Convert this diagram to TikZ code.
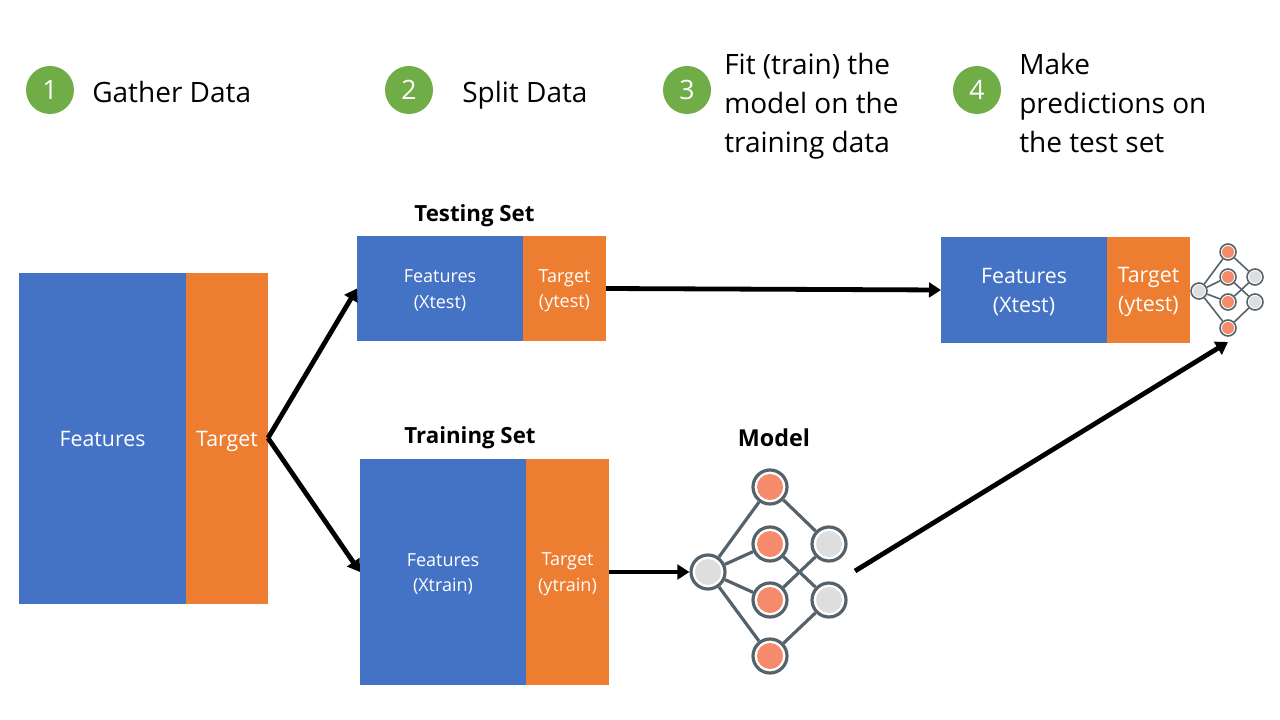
\documentclass[tikz,border=0pt]{standalone}
\usepackage{fontspec}
\setmainfont{Open Sans}
\usetikzlibrary{arrows.meta}
\definecolor{pblue}{HTML}{4472C4}
\definecolor{porange}{HTML}{ED7D31}
\definecolor{pgreen}{HTML}{70AD47}
\definecolor{nring}{HTML}{56626B}
\definecolor{nred}{HTML}{F58B6B}
\definecolor{ngrey}{HTML}{DEDEDE}
\tikzset{
  panel/.style={draw=none,inner sep=0pt,outer sep=0pt,text=white,align=center,font=\fontsize{#1}{19}\selectfont},
  lowered/.style={execute at begin node={\rule{0pt}{15.5pt}}},
  cap small/.style={inner sep=0pt,text=white,align=center,font=\fontsize{13.5}{19}\selectfont,yshift=-1.6pt},
  cap large/.style={inner sep=0pt,text=white,align=center,font=\fontsize{16}{21.7}\selectfont,yshift=-1.5pt},
  bar/.style={line width=3.6pt,-{Triangle[length=9pt,width=11pt]},black},
  badge/.style={circle,fill=pgreen,minimum size=36pt,inner sep=0pt,text=white,font=\fontsize{20}{24}\selectfont},
  step text/.style={anchor=west,align=left,inner sep=0pt,font=\fontsize{21}{29.25}\selectfont},
  head/.style={inner sep=0pt,font=\fontsize{16.7}{20}\selectfont\bfseries},
  bigr/.style={circle,draw=nring,line width=2.4pt,fill=white,minimum size=25.5pt,inner sep=0pt},
  smallr/.style={circle,draw=nring,line width=1.2pt,fill=white,minimum size=12pt,inner sep=0pt},
  link/.style={draw=nring}
}
\begin{document}
\begin{tikzpicture}[x=0.75pt,y=-0.75pt]
\useasboundingbox (0,0) rectangle (1280,720);
% headings
\node[badge] (b1) at (50,90) {1};
\node[badge] (b2) at (409,90) {2};
\node[badge] (b3) at (687,90) {3};
\node[badge] (b4) at (977,90) {4};
\node[step text] (t1) at (92,92) {Gather Data};
\node[step text] (t2) at (462,95) {Split Data};
\node[step text] (t3) at (724,106) {Fit (train) the\\model on the\\training data};
\node[step text] (t4) at (1019,103) {Make\\predictions on\\the test set};
% full data
\node[panel=16,fill=pblue,minimum width=125.25pt,minimum height=248.25pt] (f) at (102.5,438.5) {Features};
\node[panel=16,lowered,fill=porange,minimum width=61.5pt,minimum height=248.25pt] (g) at (227,438.5) {Target};
% testing
\node[head] (ht) at (474.5,216) {Testing Set};
\node[panel=13.5,fill=pblue,minimum width=124.5pt,minimum height=78.75pt,label={[cap small]center:{Features\\(Xtest)}}] (tf) at (440,288.5) {};
\node[panel=13.5,fill=porange,minimum width=62.25pt,minimum height=78.75pt,label={[cap small]center:{Target\\(ytest)}}] (tt) at (564.5,288.5) {};
% training
\node[head] (hr) at (470,438) {Training Set};
\node[panel=13.5,fill=pblue,minimum width=124.5pt,minimum height=169.5pt,label={[cap small]center:{Features\\(Xtrain)}}] (rf) at (443,572) {};
\node[panel=13.5,fill=porange,minimum width=62.25pt,minimum height=169.5pt,label={[cap small]center:{Target\\(ytrain)}}] (rt) at (567.5,572) {};
% prediction
\node[panel=16,fill=pblue,minimum width=124.5pt,minimum height=79.5pt,label={[cap large]center:{Features\\(Xtest)}}] (pf) at (1024,290) {};
\node[panel=16,fill=porange,minimum width=62.25pt,minimum height=79.5pt,label={[cap large]center:{Target\\(ytest)}}] (pt) at (1148.5,290) {};
% model
\node[head,font=\fontsize{17.5}{20}\selectfont\bfseries] (hm) at (774,438) {Model};
\foreach \n/\x/\y in {i/708/572,a/770/487,b/770/544,c/770/600,d/770/656,p/829/544,q/829/600}
  \node[bigr] (m\n) at (\x,\y) {};
\foreach \u/\v in {i/a,i/b,i/c,i/d,a/p,b/q,c/p,d/q}
  \draw[link,line width=2.4pt] (m\u) -- (m\v);
\foreach \x/\y/\c in {708/572/ngrey,770/487/nred,770/544/nred,770/600/nred,770/656/nred,829/544/ngrey,829/600/ngrey}
  \fill[\c] (\x,\y) circle (9.75pt);
% small model
\foreach \n/\x/\y in {i/1199/291,a/1228/252,b/1228/277,c/1228/302,d/1228/328,p/1255/277,q/1255/302}
  \node[smallr] (s\n) at (\x,\y) {};
\foreach \u/\v in {i/a,i/b,i/c,i/d,a/p,b/q,c/p,d/q}
  \draw[link,line width=1.2pt] (s\u) -- (s\v);
\foreach \x/\y/\c in {1199/291/ngrey,1228/252/nred,1228/277/nred,1228/302/nred,1228/328/nred,1255/277/ngrey,1255/302/ngrey}
  \fill[\c] (\x,\y) circle (4.5pt);
% arrows
\coordinate (fork) at (268,438);
\coordinate (outstart) at (855,571);
\coordinate (outend) at (1228,342);
\draw[bar] (fork) -- (tf.west);
\draw[bar] (fork) -- (rf.west);
\draw[bar] (tt.east) -- (pf.west);
\draw[bar] (rt.east) -- (mi.west);
\draw[bar] (outstart) -- (outend);
\end{tikzpicture}
\end{document}
